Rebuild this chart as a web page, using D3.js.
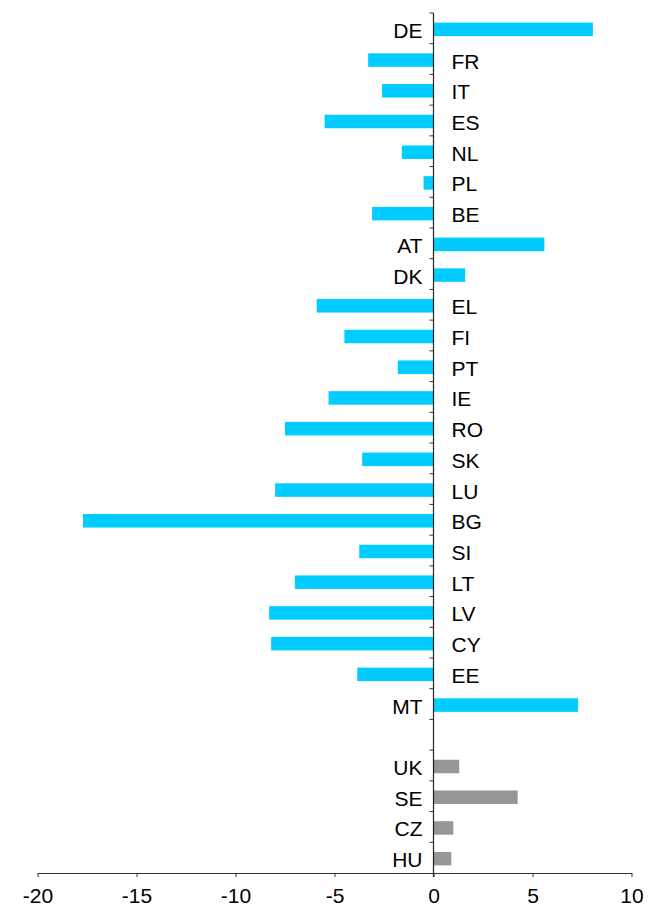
<!DOCTYPE html>
<html>
<head>
<meta charset="utf-8">
<script src="https://cdn.jsdelivr.net/npm/d3@7"></script>
<style>
  body { margin: 0; background: #fff; }
  svg text { font-family: "Liberation Sans", Arial, sans-serif; fill: #000; }
</style>
</head>
<body>
<svg id="chart" width="649" height="911"></svg>
<script>
// countries top to bottom, "gap" is the empty slot between MT and UK
var countries = ["DE", "FR", "IT", "ES", "NL", "PL", "BE", "AT", "DK", "EL", "FI", "PT", "IE", "RO",
  "SK", "LU", "BG", "SI", "LT", "LV", "CY", "EE", "MT", "gap", "UK", "SE", "CZ", "HU"];
var values = [8.05, -3.3, -2.6, -5.5, -1.6, -0.5, -3.1, 5.6, 1.6, -5.9, -4.5, -1.8, -5.3, -7.5,
  -3.6, -8.0, -17.7, -3.75, -7.0, -8.3, -8.2, -3.85, 7.3, null, 1.3, 4.25, 1.0, 0.9];
// euro area members in cyan, the others in grey
var group = ["ea", "ea", "ea", "ea", "ea", "ea", "ea", "ea", "ea", "ea", "ea", "ea", "ea", "ea",
  "ea", "ea", "ea", "ea", "ea", "ea", "ea", "ea", "ea", null, "non", "non", "non", "non"];
var xTicks = [-20, -15, -10, -5, 0, 5, 10];

var svg = d3.select("#chart");

var x = d3.scaleLinear().domain([-20, 10]).range([37.5, 631.5]);
var y = d3.scaleBand().domain(countries).range([13, 873]).paddingInner(0.56).paddingOuter(0.28);
var color = d3.scaleOrdinal().domain(["ea", "non"]).range(["#00ccff", "#969696"]);

var rows = countries.map(function (c, i) {
  return {name: c, value: values[i], group: group[i]};
}).filter(function (d) { return d.value !== null; });

// bars
svg.append("g")
  .selectAll("rect")
  .data(rows)
  .enter().append("rect")
  .attr("x", function (d) { return x(Math.min(0, d.value)); })
  .attr("y", function (d) { return y(d.name) + 1; })
  .attr("width", function (d) { return Math.abs(x(d.value) - x(0)); })
  .attr("height", y.bandwidth())
  .attr("fill", function (d) { return color(d.group); });

// x axis at the bottom, plain hyphen for negatives like the original
var xAxis = svg.append("g")
  .attr("transform", "translate(0,873)")
  .call(d3.axisBottom(x).tickValues(xTicks).tickSize(4).tickSizeOuter(0).tickPadding(11)
    .tickFormat(function (d) { return String(d); }));
xAxis.select(".domain").attr("stroke", "#333");
xAxis.selectAll(".tick line").attr("stroke", "#333");
xAxis.selectAll("text").attr("font-size", 21).attr("fill", "#000")
  .style("font-family", "'Liberation Sans', Arial, sans-serif");

// vertical zero line with ticks at band edges
var step = y.step();
var edges = countries.map(function (c) { return y(c) - y.paddingInner() * step / 2; });
svg.append("line")
  .attr("x1", x(0)).attr("x2", x(0))
  .attr("y1", 13).attr("y2", 877)
  .attr("stroke", "#222").attr("stroke-width", 1.2);
svg.append("g")
  .selectAll("line")
  .data(edges)
  .enter().append("line")
  .attr("x1", x(0) - 4).attr("x2", x(0))
  .attr("y1", function (d) { return d; })
  .attr("y2", function (d) { return d; })
  .attr("stroke", "#333");

// country labels on the opposite side of the bar
svg.append("g")
  .selectAll("text")
  .data(rows)
  .enter().append("text")
  .attr("x", function (d) { return d.value >= 0 ? x(0) - 11 : x(0) + 18; })
  .attr("y", function (d) { return y(d.name) + y.bandwidth() / 2 + 2; })
  .attr("dy", "0.36em")
  .attr("text-anchor", function (d) { return d.value >= 0 ? "end" : "start"; })
  .attr("font-size", 21)
  .text(function (d) { return d.name; });
</script>
</body>
</html>
